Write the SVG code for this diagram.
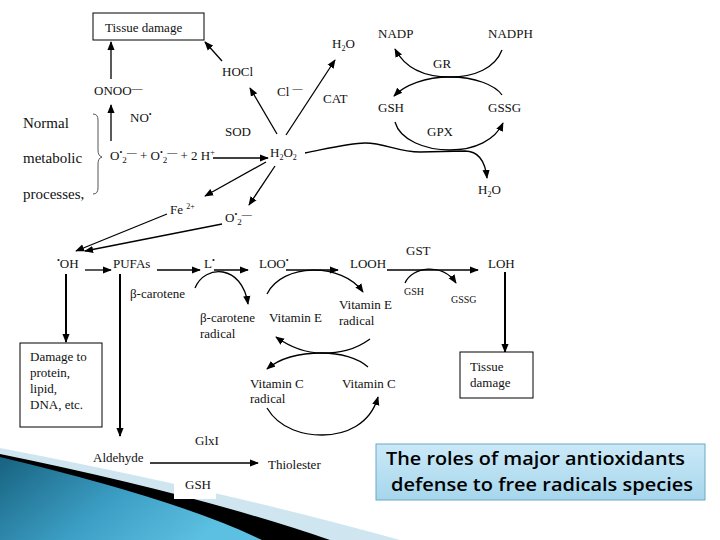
<svg xmlns="http://www.w3.org/2000/svg" width="720" height="540" viewBox="0 0 720 540">
<defs>
<marker id="ah" viewBox="0 0 10 10" refX="9" refY="5" markerWidth="9" markerHeight="9" markerUnits="userSpaceOnUse" orient="auto"><path d="M0,1 L10,5 L0,9 z" fill="#000"/></marker>
<linearGradient id="blueg" x1="0" y1="0" x2="1" y2="0.4"><stop offset="0" stop-color="#17627f"/><stop offset="0.55" stop-color="#3c9ec4"/><stop offset="1" stop-color="#5cc0e2"/></linearGradient>
<linearGradient id="capg" x1="0" y1="0" x2="0" y2="1"><stop offset="0" stop-color="#cbe9f7"/><stop offset="1" stop-color="#a6d6ec"/></linearGradient>
<style>
text{font-family:"Liberation Serif","Times New Roman",serif;font-size:13px;fill:#111}
.big{font-size:15px}
.sm{font-size:10px}
.ln{fill:none;stroke:#000;stroke-width:1.3}
.thk{stroke-width:2}
.ar{marker-end:url(#ah)}
.box{fill:#fff;stroke:#000;stroke-width:1}
.cap{font-family:"Open Sans","DejaVu Sans",sans-serif;font-size:18px;font-weight:600;fill:#000}
</style>
</defs>
<rect width="720" height="540" fill="#fff"/>

<g id="swoosh">
<path d="M0,448 Q220,490 400,540 L0,540 Z" fill="#cfe6f0"/>
<path d="M0,454 Q200,495 330,540 L0,540 Z" fill="#000"/>
<path d="M0,457 Q180,500 262,540 L0,540 Z" fill="url(#blueg)"/>
<rect x="174" y="470" width="42" height="29" fill="#fff"/>
</g>

<g id="connectors">
<line class="ln ar" x1="111" y1="79" x2="111" y2="42"/>
<line class="ln ar" x1="111" y1="141" x2="111" y2="105"/>
<line class="ln ar" x1="222" y1="61" x2="205" y2="42"/>
<line class="ln ar" x1="277" y1="134" x2="250" y2="88"/>
<line class="ln ar" x1="286" y1="135" x2="335" y2="60"/>
<line class="ln ar" x1="213" y1="158" x2="268" y2="158"/>
<line class="ln ar" x1="266" y1="162" x2="205" y2="196"/>
<line class="ln ar" x1="275" y1="166" x2="249" y2="205"/>
<line class="ln ar" x1="167" y1="214" x2="76" y2="251"/>
<line class="ln ar" x1="222" y1="224" x2="85" y2="251"/>
<path class="ln ar" d="M305,153 C330,148 350,143 365,143 C385,143 398,152 420,152 L465,151 C478,151 485,160 487,178"/>
<path class="ln ar" d="M502,50 C495,68 475,77 450,77 C425,77 405,68 395,49"/>
<path class="ln ar" d="M502,95 C495,85 475,77 450,77 C425,77 405,85 394,96"/>
<path class="ln ar" d="M395,122 C400,140 425,150 450,150 C475,150 495,140 503,123"/>
<line class="ln ar" x1="85" y1="270" x2="111" y2="270"/>
<line class="ln ar" x1="157" y1="270" x2="200" y2="270"/>
<line class="ln ar" x1="214" y1="270" x2="248" y2="270"/>
<line class="ln ar" x1="286" y1="270" x2="338" y2="270"/>
<line class="ln ar" x1="387" y1="270" x2="478" y2="270"/>
<path class="ln ar" d="M195,288 C205,264 242,264 248,304"/>
<path class="ln ar" d="M267,294 C282,263 342,262 363,292"/>
<path class="ln ar" d="M370,339 C355,350 340,353 322,353 C305,353 290,347 276,337"/>
<path class="ln ar" d="M368,367 C358,358 340,353 322,353 C300,353 280,358 267,369"/>
<path class="ln ar" d="M267,408 C280,430 305,435 322,435 C345,435 370,425 378,397"/>
<path class="ln ar" d="M405,283 C412,267 442,262 456,283"/>
<line class="ln ar thk" x1="505" y1="272" x2="505" y2="352"/>
<line class="ln ar thk" x1="66" y1="274" x2="66" y2="342"/>
<line class="ln ar thk" x1="120" y1="274" x2="120" y2="436"/>
<line class="ln ar" x1="150" y1="463" x2="258" y2="463"/>
<path d="M93,114 Q98,114 98,120 L98,150 Q98,156 102,157 Q98,158 98,164 L98,188 Q98,194 93,194" fill="none" stroke="#555" stroke-width="1"/>
</g>

<g id="tissue-damage-top"><rect class="box" x="93" y="13" width="111" height="27"/><text x="105" y="32">Tissue damage</text></g>
<g id="h2o-top"><text x="332" y="48">H<tspan font-size="8" dy="3">2</tspan><tspan dy="-3">O</tspan></text></g>
<g id="hocl"><text x="222" y="76">HOCl</text></g>
<g id="cl"><text x="277" y="96">Cl <tspan dy="-4" font-size="10">—</tspan></text></g>
<g id="cat"><text x="323" y="103">CAT</text></g>
<g id="onoo"><text x="94" y="95">ONOO<tspan dy="-3" font-size="11">—</tspan></text></g>
<g id="no"><text x="130" y="122">NO<tspan dy="-5" font-size="8">•</tspan></text></g>
<g id="sod"><text x="225" y="136">SOD</text></g>
<g id="normal"><text class="big" x="23" y="128">Normal</text><text class="big" x="23" y="163">metabolic</text><text class="big" x="23" y="199">processes,</text></g>
<g id="superoxide"><text x="110" y="160">O<tspan dy="-5" font-size="8">•</tspan><tspan dy="8" font-size="9">2</tspan><tspan dy="-7" font-size="10">—</tspan><tspan dy="4"> + O</tspan><tspan dy="-5" font-size="8">•</tspan><tspan dy="8" font-size="9">2</tspan><tspan dy="-7" font-size="10">—</tspan><tspan dy="4"> + 2 H</tspan><tspan dy="-5" font-size="8">+</tspan></text></g>
<g id="h2o2"><text x="270" y="157">H<tspan font-size="8" dy="3">2</tspan><tspan dy="-3">O</tspan><tspan font-size="8" dy="3">2</tspan></text></g>
<g id="fe"><text x="170" y="214">Fe <tspan dy="-5" font-size="8">2+</tspan></text></g>
<g id="o2b"><text x="225" y="222">O<tspan dy="-5" font-size="8">•</tspan><tspan dy="8" font-size="9">2</tspan><tspan dy="-7" font-size="10">—</tspan></text></g>

<g id="nadp"><text x="378" y="38">NADP</text></g>
<g id="nadph"><text x="488" y="38">NADPH</text></g>
<g id="gr"><text x="433" y="68">GR</text></g>
<g id="gsh"><text x="378" y="112">GSH</text></g>
<g id="gssg"><text x="488" y="112">GSSG</text></g>
<g id="gpx"><text x="427" y="136">GPX</text></g>
<g id="h2o-right"><text x="478" y="194">H<tspan font-size="8" dy="3">2</tspan><tspan dy="-3">O</tspan></text></g>

<g id="oh"><text x="57" y="268"><tspan dy="-5" font-size="8">•</tspan><tspan dy="5">OH</tspan></text></g>
<g id="pufas"><text x="113" y="268">PUFAs</text></g>
<g id="l"><text x="204" y="268">L<tspan dy="-5" font-size="8">•</tspan></text></g>
<g id="loo"><text x="259" y="268">LOO<tspan dy="-5" font-size="8">•</tspan></text></g>
<g id="looh"><text x="350" y="268">LOOH</text></g>
<g id="gst"><text x="406" y="255">GST</text></g>
<g id="loh"><text x="488" y="268">LOH</text></g>
<g id="gsh-small"><text class="sm" x="404" y="295">GSH</text></g>
<g id="gssg-small"><text class="sm" x="451" y="303">GSSG</text></g>
<g id="bcarotene"><text x="130" y="298">β-carotene</text></g>
<g id="bcarotene-radical"><text x="200" y="322">β-carotene</text><text x="200" y="338">radical</text></g>
<g id="vite"><text x="269" y="322">Vitamin E</text></g>
<g id="vite-radical"><text x="339" y="309">Vitamin E</text><text x="339" y="325">radical</text></g>
<g id="vitc-radical"><text x="250" y="388">Vitamin C</text><text x="250" y="403">radical</text></g>
<g id="vitc"><text x="342" y="388">Vitamin C</text></g>
<g id="damage-box"><rect class="box" x="20" y="343" width="82" height="84"/><text x="30" y="361">Damage to</text><text x="30" y="377">protein,</text><text x="30" y="393">lipid,</text><text x="30" y="409">DNA, etc.</text></g>
<g id="tissue-damage-bottom"><rect class="box" x="460" y="352" width="73" height="46"/><text x="470" y="371">Tissue</text><text x="470" y="387">damage</text></g>
<g id="glxi"><text x="195" y="445">GlxI</text></g>
<g id="aldehyde"><text x="93" y="462">Aldehyde</text></g>
<g id="thiolester"><text x="268" y="469">Thiolester</text></g>
<g id="gsh-bottom"><text x="185" y="489">GSH</text></g>

<g id="caption">
<rect x="376" y="444" width="329" height="56" fill="url(#capg)" stroke="#6aa9c6" stroke-width="1"/>
<text class="cap" x="386" y="465" textLength="299" lengthAdjust="spacingAndGlyphs">The roles of major antioxidants</text>
<text class="cap" x="391" y="491" textLength="302" lengthAdjust="spacingAndGlyphs">defense to free radicals species</text>
</g>
</svg>
